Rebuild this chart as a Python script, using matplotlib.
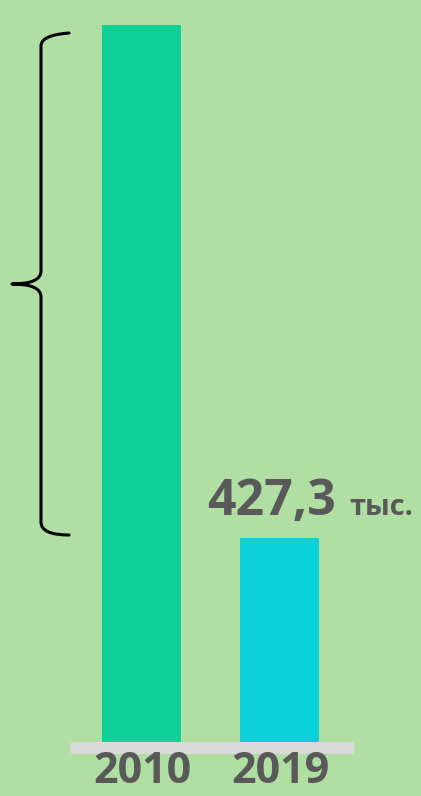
import matplotlib.pyplot as plt
from matplotlib.path import Path
from matplotlib.patches import PathPatch, FancyBboxPatch

years = ['2010', '2019']
values = [1502.0, 427.3]
bar_colors = ['#10d098', '#0bd1d8']
label_2019 = '427,3'
unit = 'тыс.'

bg = '#b1dea3'
text_color = '#595959'

fig = plt.figure(figsize=(4.21, 7.96), dpi=100, facecolor=bg)
# axes: y=0 sits at the grey baseline (742 px from top)
ax = fig.add_axes([0, 54 / 796, 1, 742 / 796])
ax.set_facecolor(bg)
ax.set_axis_off()

ymax = values[0] * 742 / 717
ax.set_ylim(0, ymax)
ax.set_xlim(-141.5 / 138, (421 - 141.5) / 138)
px_y = ymax / 742  # data units per pixel vertically
px_x = 1 / 138     # data units per pixel horizontally

x = list(range(len(years)))
ax.bar(x, values, width=79 / 138, color=bar_colors, zorder=2)

# grey baseline strip under the bars
base = FancyBboxPatch((x[0] - 71.5 * px_x, -12 * px_y), (x[-1] - x[0]) + 146.5 * px_x, 12 * px_y,
                      boxstyle='round,pad=0,rounding_size=0.025', mutation_aspect=px_y / px_x,
                      facecolor='#d9d9d9', edgecolor='none', clip_on=False, zorder=1)
ax.add_patch(base)

# year labels
for xi, yr in zip(x, years):
    ax.text(xi + 1 * px_x, -41 * px_y, yr, ha='center', va='baseline', fontsize=31,
            fontweight='bold', family='Open Sans', color=text_color)

# value label for 2019
ax.text(x[1] + 56 * px_x, values[1] + 23 * px_y, label_2019, ha='right', va='baseline',
        fontsize=36, fontweight='bold', family='Open Sans', color=text_color)
ax.text(x[1] + 70 * px_x, values[1] + 23 * px_y, unit, ha='left', va='baseline',
        fontsize=21, fontweight='bold', family='Open Sans', color=text_color)

# curly brace showing the drop
bx = x[0] - 100.5 * px_x
tip_x = x[0] - 129.5 * px_x
end_x = x[0] - 72.5 * px_x
top = values[0] - 8 * px_y
bot = values[1] + 3 * px_y
mid = (top + bot) / 2
r = 13 * px_y
verts = [(end_x, top), (bx, top - 2 * px_y), (bx, top - r),
         (bx, mid + r), (bx, mid), (tip_x, mid),
         (bx, mid), (bx, mid - r),
         (bx, bot + r), (bx, bot), (end_x, bot)]
codes = [Path.MOVETO, Path.CURVE3, Path.CURVE3,
         Path.LINETO, Path.CURVE3, Path.CURVE3,
         Path.CURVE3, Path.CURVE3,
         Path.LINETO, Path.CURVE3, Path.CURVE3]
ax.add_patch(PathPatch(Path(verts, codes), facecolor='none', edgecolor='black',
                       lw=2.2, clip_on=False, capstyle='round', joinstyle='round'))

fig.savefig('out.png', dpi=100, facecolor=bg)
